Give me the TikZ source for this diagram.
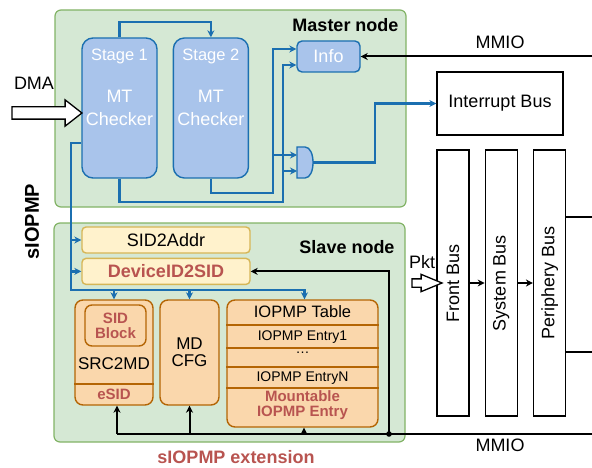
\documentclass[tikz,border=0pt]{standalone}
\usepackage{fontspec}
\setmainfont{Liberation Sans}
\usepackage{tikz}
\usetikzlibrary{arrows.meta,positioning,shapes.arrows,calc}

\definecolor{grpfill}{HTML}{D5E8D4}
\definecolor{grpline}{HTML}{82B366}
\definecolor{chkfill}{HTML}{A9C4EB}
\definecolor{chkline}{HTML}{1B6FB0}
\definecolor{yfill}{HTML}{FFF2CC}
\definecolor{yline}{HTML}{D6B656}
\definecolor{ofill}{HTML}{FAD7AC}
\definecolor{oline}{HTML}{B46504}
\definecolor{redtxt}{HTML}{B85450}

\newcommand{\fsz}[2]{\fontsize{#1}{#2}\selectfont}

\tikzset{
  grp/.style={draw=grpline, fill=grpfill, line width=1.2pt, rounded corners=6pt, inner sep=0pt},
  chk/.style={draw=chkline, fill=chkfill, line width=1.4pt, rounded corners=11pt, inner sep=0pt,
    minimum width=75pt, minimum height=140pt, text=white, align=center, font=\fsz{18}{23}},
  ybox/.style={draw=yline, fill=yfill, line width=1.4pt, rounded corners=4pt, inner sep=0pt,
    minimum width=168pt, minimum height=26pt, font=\fsz{18}{20}},
  obox/.style={draw=oline, fill=ofill, line width=1.4pt, rounded corners=8pt, inner sep=0pt},
  orule/.style={draw=oline, line width=1.4pt},
  wbox/.style={draw, fill=white, line width=1.3pt, inner sep=0pt},
  bus/.style={wbox, minimum width=32pt, minimum height=266pt, font=\fsz{18}{20}},
  fat/.style={draw, fill=white, line width=1.3pt, single arrow, inner xsep=0pt, shape border rotate=0},
  txt/.style={inner sep=0pt, font=\fsz{18}{20}},
  ttl/.style={inner sep=0pt, font=\bfseries\fsz{18}{20}},
  redb/.style={inner sep=0pt, text=redtxt, align=center, font=\bfseries\fsz{15}{15}},
  bline/.style={draw=chkline, line width=2.2pt},
  barr/.style={bline, -{Stealth[length=7pt,width=7pt]}},
  kline/.style={draw=black, line width=2pt},
  karr/.style={kline, -{Stealth[length=7pt,width=7pt]}},
}

\begin{document}
\begin{tikzpicture}[x=1pt,y=-1pt]
\useasboundingbox (0,0) rectangle (592,468);
% groups
\node[grp, minimum width=351pt, minimum height=197pt] (master) at (230.5,108.5) {};
\node[grp, minimum width=351pt, minimum height=219pt] (slave) at (229.5,332.5) {};
\node[ttl] (mtitle) at (345.5,25) {Master node};
\node[ttl] (stitle) at (347,247) {Slave node};
\node[ttl, text=redtxt] (ext) at (236,457) {sIOPMP extension};
\node[ttl, rotate=90, font=\bfseries\fsz{20}{22}] (siopmp) at (32,221.5) {sIOPMP};

% master node
\node[chk] (s1) at (119.5,108) {MT\\Checker};
\node[chk, right=15pt of s1] (s2) {MT\\Checker};
\node[txt, text=white, font=\fsz{16.5}{18}] (s1lab) at ($(s1.north)+(0,19)$) {Stage 1};
\node[txt, text=white, font=\fsz{16.5}{18}] (s2lab) at ($(s2.north)+(0,19)$) {Stage 2};
\node[chk, minimum width=63pt, minimum height=31pt, rounded corners=5pt] (info) at (328.5,56.5) {Info};
% and gate
\draw[draw=chkline, fill=chkfill, line width=1.4pt] (297,147) -- (305,147)
  .. controls (315.7,147) and (315.7,178) .. (305,178) -- (297,178) -- cycle;
\coordinate (and1) at (297,155);
\coordinate (and2) at (297,171);
\coordinate (andout) at (313,162.5);

% right side
\node[wbox, minimum width=126pt, minimum height=63pt, font=\fsz{18}{20}] (irq) at (500,103.5) {Interrupt Bus};
\node[bus] (fb) at (453,283) {\rotatebox{90}{Front Bus}};
\node[bus, right=15pt of fb] (sb) {\rotatebox{90}{System Bus}};
\node[bus, right=15pt of sb] (pb) {\rotatebox{90}{Periphery Bus}};

% slave node
\node[ybox] (s2a) at (166,240) {SID2Addr};
\node[ybox, below=4pt of s2a, text=redtxt, font=\bfseries\fsz{18}{20}] (d2s) {DeviceID2SID};

\node[obox, minimum width=78pt, minimum height=105pt] (src) at (114,352.5) {};
\node[obox, minimum width=61pt, minimum height=41pt, rounded corners=7pt] (sidb) at (115.5,325.5) {};
\node[redb] (sidblab) at (sidb) {SID\\Block};
\node[txt, font=\fsz{17}{19}] (srclab) at (114,364) {SRC2MD};
\draw[orule] (src.west |- 0,384) -- (src.east |- 0,384);
\node[redb] (esid) at (114,394.5) {eSID};

\node[obox, minimum width=59pt, minimum height=105pt, align=center, font=\fsz{17}{17}] (md) at (189.5,352.5) {MD\\CFG};

\node[obox, minimum width=151pt, minimum height=127pt] (tab) at (302.5,363.5) {};
\foreach \yy in {325,348,367,388}
  \draw[orule] (tab.west |- 0,\yy) -- (tab.east |- 0,\yy);
\node[txt, font=\fsz{16.5}{18}] (tabhd) at (302.5,312) {IOPMP Table};
\node[txt, font=\fsz{14}{16}] (ent1) at (302.5,337) {IOPMP Entry1};
\node[txt, font=\fsz{14}{16}] (entd) at (302.5,353) {\dots};
\node[txt, font=\fsz{14}{16}] (entn) at (302.5,378) {IOPMP EntryN};
\node[redb] (mount) at (302.5,405.5) {Mountable\\IOPMP Entry};

% inputs
\node[fat, inner ysep=5.5pt, minimum height=70pt, minimum width=25pt, single arrow head extend=7pt, single arrow tip angle=76] (dma) at (43,113) {};
\node[txt] (dmalab) at (34,83) {DMA};
\node[fat, inner ysep=3.5pt, minimum height=30pt, minimum width=16pt, single arrow head extend=4.5pt, single arrow tip angle=45] (pkt) at (422,283) {};
\node[txt] (pktlab) at (422,262) {Pkt};
\node[txt] (mmio1) at (500,42) {MMIO};
\node[txt] (mmio2) at (500,445) {MMIO};

% blue edges
\coordinate (j1) at (273,155);
\coordinate (j2) at (283,171);
\coordinate (bv) at (71,290);
\coordinate (tabin) at ([xshift=2pt]tab.north);
\draw[barr] (s1.north) -- ++(0,-15) -| (s2.north);
\draw[barr] (s2.south) |- (273,193) |- ([yshift=7.5pt]info.west);
\draw[barr] (j1) -- (and1);
\draw[barr] (s1.south) |- (283,202) |- ([yshift=-8.5pt]info.west);
\draw[barr] (j2) -- (and2);
\draw[barr] (andout) -| ($(irq.west)+(-61,0)$) -- (irq.west);
\draw[barr] ([yshift=-35pt]s1.west) -| (bv) -| (tabin);
\draw[barr] (bv |- s2a.west) -- (s2a.west);
\draw[barr] (bv |- d2s.west) -- (d2s.west);
\draw[barr] (src.north |- bv) -- (src.north);
\draw[barr] (md.north |- bv) -- (md.north);

% black edges
\coordinate (mmin) at (592,56.5);
\coordinate (bus-r) at (592,434);
\coordinate (jn) at (389,434);
\coordinate (srcin) at ([xshift=3pt]src.south);
\coordinate (tabout) at ([xshift=1.5pt]tab.south);
\draw[karr] (mmin) -- (info.east);
\draw[kline] (bus-r) -- (srcin |- bus-r);
\draw[karr] (srcin |- bus-r) -- (srcin);
\draw[karr] (md.south |- bus-r) -- (md.south);
\draw[karr] (tabout |- bus-r) -- (tabout);
\fill (jn) circle[radius=2.8pt];
\draw[karr] (jn) |- (d2s.east);
\draw[karr] (fb.east) -- (sb.west);
\draw[karr] (sb.east) -- (pb.west);
\draw[kline] (pb.east |- 0,217) -- (592,217);
\draw[kline] (pb.east |- 0,352) -- (592,352);
\end{tikzpicture}
\end{document}
